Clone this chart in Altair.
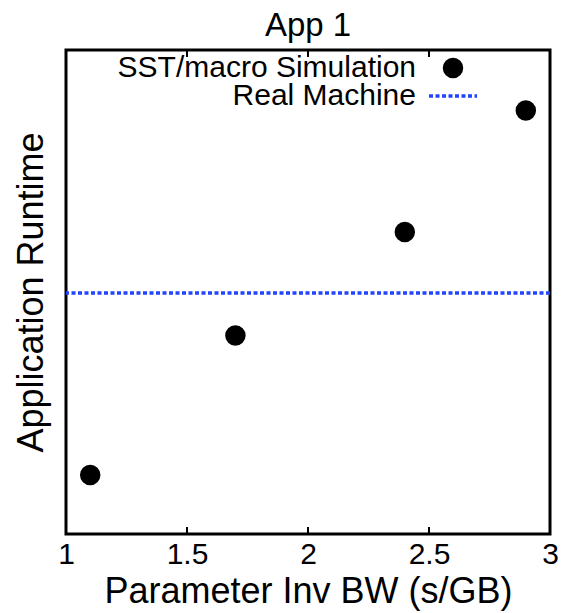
import altair as alt
import pandas as pd

# SST/macro simulated runtimes at each inverse-bandwidth setting
inv_bw = [1.1, 1.7, 2.4, 2.9]
sim_runtime = [0.122, 0.41, 0.624, 0.875]
# Runtime measured on the real machine
real_runtime = [0.498]
x_ticks = [1, 1.5, 2, 2.5, 3]
legend_labels = ["SST/macro Simulation", "Real Machine"]
chart_title = ["App 1"]

FONT = "Liberation Sans"
BLUE = "#2244ff"
W = H = 484

sim = pd.DataFrame({"bw": inv_bw, "runtime": sim_runtime})
real = pd.DataFrame({"runtime": real_runtime})
inner_ticks = pd.DataFrame({"bw": x_ticks[1:-1]})

x_scale = alt.Scale(domain=[1, 3], nice=False, zero=False)
y_scale = alt.Scale(domain=[0, 1], nice=False)

x_axis = alt.Axis(
    values=x_ticks, format="~g", ticks=False, domain=False, grid=False,
    labelFontSize=30, labelBaseline="alphabetic", labelPadding=29,
    labelFlush=False, labelOverlap=False,
    titleFontSize=36, titleY=68, titleBaseline="alphabetic",
)
y_axis = alt.Axis(
    labels=False, ticks=False, domain=False, grid=False,
    titleFontSize=36, titleX=-24, titleY=H / 2, titleAngle=270,
    titleBaseline="alphabetic", titleAlign="center",
)

points = alt.Chart(sim).mark_circle(size=420, color="black", opacity=1).encode(
    x=alt.X("bw:Q", scale=x_scale, axis=x_axis, title="Parameter Inv BW (s/GB)"),
    y=alt.Y("runtime:Q", scale=y_scale, axis=y_axis, title="Application Runtime"),
)

real_line = alt.Chart(real).mark_rule(
    color=BLUE, strokeWidth=3.5, strokeDash=[4, 2.5]
).encode(y=alt.Y("runtime:Q", scale=y_scale))

# inward ticks on the bottom and mirrored on the top of the frame
bottom_ticks = alt.Chart(inner_ticks).mark_rule(color="black", strokeWidth=2).encode(
    x=alt.X("bw:Q", scale=x_scale), y=alt.value(H), y2=alt.value(H - 7)
)
top_ticks = alt.Chart(inner_ticks).mark_rule(color="black", strokeWidth=2).encode(
    x=alt.X("bw:Q", scale=x_scale), y=alt.value(0), y2=alt.value(7)
)

# chart heading, centred above the frame
title_text = alt.Chart(pd.DataFrame({"t": chart_title})).mark_text(
    align="center", baseline="alphabetic", fontSize=33, font=FONT, color="black"
).encode(text="t:N", x=alt.value(W / 2), y=alt.value(-14))

# in-plot key, text right-aligned with its sample to the right
sim_key = pd.DataFrame({"label": [legend_labels[0]]})
real_key = pd.DataFrame({"label": [legend_labels[1]]})

sim_text = alt.Chart(sim_key).mark_text(
    align="right", baseline="alphabetic", fontSize=30, font=FONT, color="black"
).encode(text="label:N", x=alt.value(350), y=alt.value(27))
sim_dot = alt.Chart(sim_key).mark_circle(size=420, color="black", opacity=1).encode(
    x=alt.value(387), y=alt.value(18)
)
real_text = alt.Chart(real_key).mark_text(
    align="right", baseline="alphabetic", fontSize=30, font=FONT, color="black"
).encode(text="label:N", x=alt.value(350), y=alt.value(55))
real_sample = alt.Chart(real_key).mark_rule(
    color=BLUE, strokeWidth=3.5, strokeDash=[4, 2.5]
).encode(x=alt.value(363), x2=alt.value(411), y=alt.value(46))

chart = (
    alt.layer(real_line, bottom_ticks, top_ticks, points, title_text,
              sim_text, sim_dot, real_text, real_sample)
    .properties(
        width=W, height=H,
        autosize=alt.AutoSizeParams(type="none"),
        padding={"left": 66, "top": 50, "right": 13, "bottom": 79},
        background="white",
    )
    .configure_view(stroke="black", strokeWidth=3)
    .configure_axis(labelFont=FONT, titleFont=FONT, labelColor="black",
                    titleColor="black", titleFontWeight="normal")
)

chart.save("out.html", embed_options={"renderer": "svg", "actions": False})
